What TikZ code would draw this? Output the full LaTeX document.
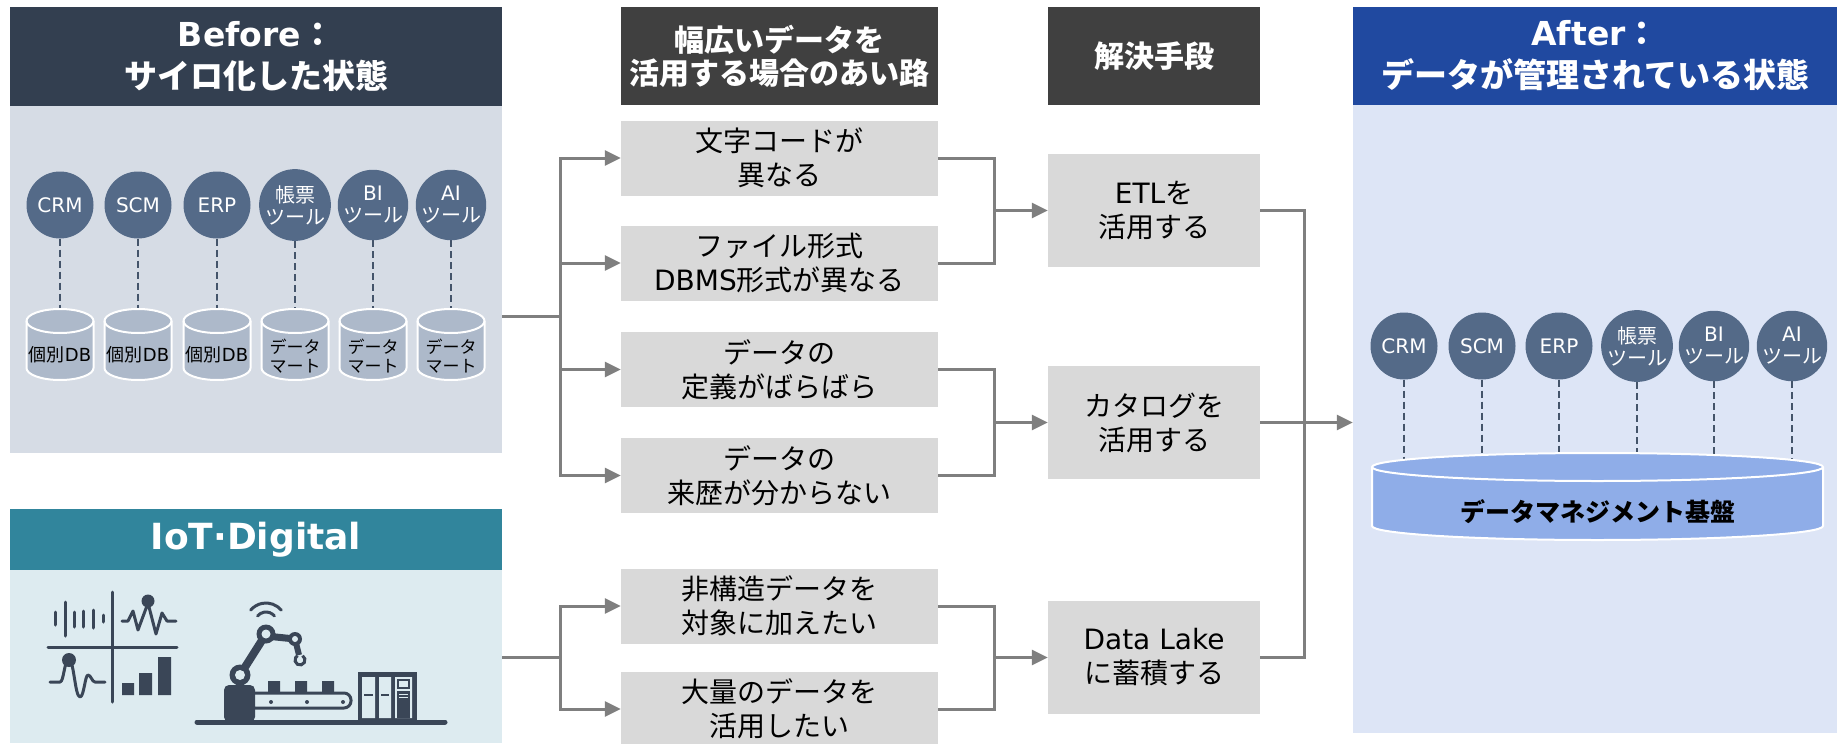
\documentclass[tikz,border=0pt]{standalone}
\usepackage{fontspec}
\setmainfont{Noto Sans CJK JP}
\newfontfamily\verd{DejaVu Sans}
\usetikzlibrary{arrows.meta}
\pgfdeclarelayer{panels}
\pgfdeclarelayer{links}
\pgfsetlayers{panels,links,main}

\definecolor{silohead}{HTML}{333F50}
\definecolor{silobody}{HTML}{D6DCE5}
\definecolor{appblue}{HTML}{546A88}
\definecolor{dbgray}{HTML}{ADB9CA}
\definecolor{tieblue}{HTML}{44546A}
\definecolor{iotteal}{HTML}{31859C}
\definecolor{iotbody}{HTML}{DDEBF0}
\definecolor{iconink}{HTML}{3A4657}
\definecolor{headgray}{HTML}{404040}
\definecolor{cellgray}{HTML}{D9D9D9}
\definecolor{flowgray}{HTML}{7F7F7F}
\definecolor{afterhead}{HTML}{2049A0}
\definecolor{afterbody}{HTML}{DDE5F6}
\definecolor{platblue}{HTML}{8FADE8}

\tikzset{
  panel/.style={rectangle,inner sep=0pt},
  headbar/.style={panel,text=white,align=center,font=\bfseries\fontsize{33}{42}\selectfont},
  colbar/.style={panel,fill=headgray,text=white,align=center,minimum width=317,minimum height=98,font=\bfseries\fontsize{30}{33}\selectfont},
  app/.style={circle,fill=appblue,text=white,minimum size=67,inner sep=0pt,align=center,font=\fontsize{20}{22}\selectfont},
  drumline/.style={draw=white,line width=2},
  storetext/.style={inner sep=0pt,align=center,font=\fontsize{17}{19}\selectfont},
  issue/.style={panel,fill=cellgray,minimum width=317,minimum height=75,align=center,font=\fontsize{28}{34}\selectfont},
  remedy/.style={panel,fill=cellgray,minimum width=212,minimum height=113,align=center,font=\fontsize{28}{34}\selectfont},
  link/.style={draw=flowgray,line width=3},
  flow/.style={link,-{Triangle[length=16pt,width=15pt]}},
  tie/.style={draw=tieblue,line width=2.5,dash pattern=on 7pt off 4pt},
  icon/.style={draw=iconink,line width=3,line cap=round,line join=round}
}

% drum: [fill]{name}{centre x}{top y}{bottom y}{x radius}{y radius}
\newcommand{\drum}[7][dbgray]{%
  \draw[drumline,fill=#1] (#3-#6,#4) -- (#3-#6,#5)
    arc[start angle=180,end angle=360,x radius=#6pt,y radius=#7pt]
    -- (#3+#6,#4) arc[start angle=0,end angle=180,x radius=#6pt,y radius=#7pt] -- cycle;
  \draw[drumline] (#3-#6,#4) arc[start angle=180,end angle=360,x radius=#6pt,y radius=#7pt];
  \coordinate (#2) at (#3,#4);}

\begin{document}
\begin{tikzpicture}[x=1pt,y=-1pt]
  \useasboundingbox (0,0) rectangle (1837,744);

  % region backgrounds
  \begin{pgfonlayer}{panels}
    \node[panel,fill=silobody,minimum width=492,minimum height=347] (beforebody) at (256,279.5) {};
    \node[panel,fill=iotbody,minimum width=492,minimum height=173] (iotbody) at (256,656.5) {};
    \node[panel,fill=afterbody,minimum width=484,minimum height=628] (afterbody) at (1595,419) {};
  \end{pgfonlayer}

  \node[headbar,fill=silohead,minimum width=492,minimum height=99] (beforehead) at (256,56.5) {{\verd Before}：\\サイロ化した状態};
  \node[headbar,fill=iotteal,minimum width=492,minimum height=61,font=\bfseries\fontsize{36}{40}\selectfont\verd] (iothead) at (256,539.5) {IoT·Digital};
  \node[headbar,fill=afterhead,minimum width=484,minimum height=98] (afterhead) at (1595,56) {{\verd After}：\\データが管理されている状態};
  \node[colbar] (issuehead) at (779.5,56) {幅広いデータを\\活用する場合のあい路};
  \node[colbar,minimum width=212] (remedyhead) at (1154,56) {解決手段};

  % silo systems, each with its own store
  \node[app] (c1) at (60,205) {\verd CRM};
  \node[app] (c2) at (138,205) {\verd SCM};
  \node[app] (c3) at (217,205) {\verd ERP};
  \node[app] (c4) at (295,205) {帳票\\ツール};
  \node[app] (c5) at (373,205) {{\verd BI}\\ツール};
  \node[app] (c6) at (451,205) {{\verd AI}\\ツール};
  \drum{d1}{60}{321}{368}{33.5}{12}
  \drum{d2}{138}{321}{368}{33.5}{12}
  \drum{d3}{217}{321}{368}{33.5}{12}
  \drum{d4}{295}{321}{368}{33.5}{12}
  \drum{d5}{373}{321}{368}{33.5}{12}
  \drum{d6}{451}{321}{368}{33.5}{12}
  \node[storetext,font=\fontsize{18}{19}\selectfont] (t1) at (60,355) {個別{\verd DB}};
  \node[storetext,font=\fontsize{18}{19}\selectfont] (t2) at (138,355) {個別{\verd DB}};
  \node[storetext,font=\fontsize{18}{19}\selectfont] (t3) at (217,355) {個別{\verd DB}};
  \node[storetext] (t4) at (295,356) {データ\\マート};
  \node[storetext] (t5) at (373,356) {データ\\マート};
  \node[storetext] (t6) at (451,356) {データ\\マート};
  \begin{pgfonlayer}{links}
    \draw[tie] (c1) -- (d1) (c2) -- (d2) (c3) -- (d3) (c4) -- (d4) (c5) -- (d5) (c6) -- (d6);
  \end{pgfonlayer}

  % sensor chart icon
  \draw[icon] (112,592) -- (112,702) (48,647) -- (177,647);
  \draw[icon] (55,612) -- (55,625) (65,602) -- (65,636) (74,612) -- (74,627)
    (83,611) -- (83,627) (93,610) -- (93,628) (103,615) -- (103,622);
  \draw[icon] (122,621) -- (128,621) -- (133,611) -- (138,630) -- (148,603)
    -- (156,634) -- (162,613) -- (167,621) -- (176,621);
  \fill[iconink] (148,601) circle[radius=6.5pt];
  \draw[icon] (50,682) -- (60,682) .. controls (64,682) and (64,660) .. (69,660)
    .. controls (74,660) and (75,697) .. (80,697) .. controls (84,697) and (85,675) .. (88,675)
    .. controls (91,675) and (92,682) .. (95,682) -- (105,682);
  \fill[iconink] (69,660) circle[radius=7pt];
  \fill[iconink] (122,683) rectangle (134,695) (139,673) rectangle (152,695) (158,657) rectangle (171,695);

  % factory icon
  \draw[iconink,line width=5,line cap=round] (197,722) -- (445,722);
  \draw[iconink,line width=3,fill=iotbody,rounded corners=7] (248,693) rectangle (351,708);
  \fill[iconink] (271,702) circle[radius=2pt] (307,702) circle[radius=2pt] (343,702) circle[radius=2pt];
  \fill[iconink] (268,681) rectangle (280,693) (295,681) rectangle (307,693) (322,681) rectangle (334,693);
  \fill[iconink,rounded corners=5] (224,722) -- (224,685) -- (255,685) -- (255,722) -- cycle;
  \draw[iconink,line width=8] (240,675) -- (266,634);
  \draw[iconink,line width=7] (266,636) -- (295,639);
  \draw[iconink,line width=6] (295,639) -- (299,655);
  \draw[iconink,line width=3] (300,660) ++(60:5pt) arc[start angle=60,end angle=-240,radius=5pt];
  \fill[iconink] (240,675) circle[radius=10.5pt] (266,634) circle[radius=9.5pt] (295,639) circle[radius=7pt];
  \fill[iotbody] (240,675) circle[radius=5pt] (266,634) circle[radius=4.5pt] (295,639) circle[radius=3pt];
  \draw[iconink,line width=3,line cap=round] (266,623) ++(40:20pt) arc[start angle=40,end angle=140,radius=20pt];
  \draw[iconink,line width=3,line cap=round] (266,623) ++(40:11pt) arc[start angle=40,end angle=140,radius=11pt];
  \fill[iconink] (358,672) rectangle (417,722);
  \fill[iotbody] (362,677) rectangle (375,718) (379,677) rectangle (391,718) (395,677) rectangle (412,718);
  \draw[iconink,line width=2] (364,695) -- (373,695) (381,695) -- (389,695);
  \draw[iconink,line width=1.5] (398,680) rectangle (409,688);
  \fill[iconink] (397,691) rectangle (410,718);
  \draw[iotbody,line width=1] (399,694) -- (408,694) (399,697) -- (408,697);

  % obstacles and remedies
  \node[issue] (p1) at (779.5,158) {文字コードが\\異なる};
  \node[issue] (p2) at (779.5,263) {ファイル形式\\{\verd DBMS}形式が異なる};
  \node[issue] (p3) at (779.5,369.5) {データの\\定義がばらばら};
  \node[issue] (p4) at (779.5,475.5) {データの\\来歴が分からない};
  \node[issue] (p5) at (779.5,606) {非構造データを\\対象に加えたい};
  \node[issue] (p6) at (779.5,709) {大量のデータを\\活用したい};
  \node[remedy] (s1) at (1154,210.5) {{\verd ETL}を\\活用する};
  \node[remedy] (s2) at (1154,422.5) {カタログを\\活用する};
  \node[remedy] (s3) at (1154,657.5) {{\verd Data Lake}\\に蓄積する};

  \coordinate (fork1) at (560,316.75);
  \coordinate (fork2) at (560,657.5);
  \coordinate (join1) at (994,210.5);
  \coordinate (join2) at (994,422.5);
  \coordinate (join3) at (994,657.5);
  \coordinate (merge) at (1304,422.5);

  \draw[link] (fork1 -| beforebody.east) -- (fork1);
  \draw[flow] (fork1) |- (p1);
  \draw[flow] (fork1) |- (p2);
  \draw[flow] (fork1) |- (p3);
  \draw[flow] (fork1) |- (p4);
  \draw[link] (fork2 -| iotbody.east) -- (fork2);
  \draw[flow] (fork2) |- (p5);
  \draw[flow] (fork2) |- (p6);

  \draw[link] (p1) -| (join1) |- (p2);
  \draw[flow] (join1) -- (s1);
  \draw[link] (p3) -| (join2) |- (p4);
  \draw[flow] (join2) -- (s2);
  \draw[link] (p5) -| (join3) |- (p6);
  \draw[flow] (join3) -- (s3);

  \draw[link] (s1) -| (merge) |- (s3);
  \draw[flow] (s2) -- (s2 -| afterbody.west);

  % managed state: tools on one shared platform
  \node[app] (a1) at (1404,346) {\verd CRM};
  \node[app] (a2) at (1482,346) {\verd SCM};
  \node[app] (a3) at (1559,346) {\verd ERP};
  \node[app] (a4) at (1637,346) {帳票\\ツール};
  \node[app] (a5) at (1714,346) {{\verd BI}\\ツール};
  \node[app] (a6) at (1792,346) {{\verd AI}\\ツール};
  \drum[platblue]{platform}{1597.5}{467}{526}{225.5}{14}
  \node[storetext,font=\bfseries\fontsize{25}{28}\selectfont] (platformtext) at (1597.5,512) {データマネジメント基盤};
  \begin{pgfonlayer}{links}
    \draw[tie] (a1) -- (a1 |- platform) (a2) -- (a2 |- platform)
      (a3) -- (a3 |- platform) (a4) -- (a4 |- platform)
      (a5) -- (a5 |- platform) (a6) -- (a6 |- platform);
  \end{pgfonlayer}
\end{tikzpicture}
\end{document}
